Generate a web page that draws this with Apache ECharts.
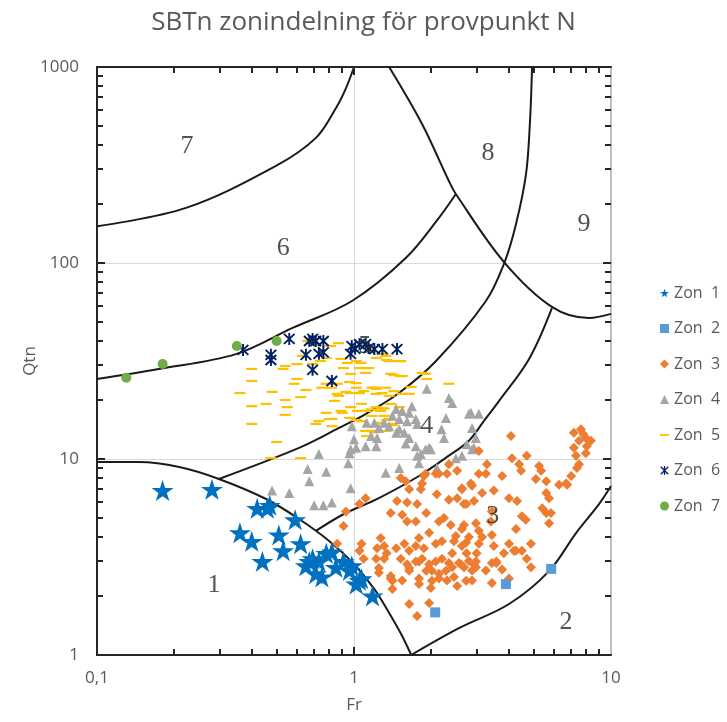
<!DOCTYPE html>
<html>
<head>
<meta charset="utf-8">
<script src="https://cdn.jsdelivr.net/npm/echarts@6/dist/echarts.min.js"></script>
<style>
  html, body { margin: 0; padding: 0; background: #ffffff; }
  #chart { width: 727px; height: 722px; }
</style>
</head>
<body>
<div id="chart"></div>
<script>
// ---- Tick positions on the log axes ----
const xTicksMinor = [0.2, 0.3, 0.4, 0.5, 0.6, 0.7, 0.8, 0.9, 2, 3, 4, 5, 6, 7, 8, 9];
const yTicksMinor = [2, 3, 4, 5, 6, 7, 8, 9, 20, 30, 40, 50, 60, 70, 80, 90, 200, 300, 400, 500, 600, 700, 800, 900];
const xTicksMajor = [1];
const yTicksMajor = [10, 100];

// ---- SBTn zone boundaries, [Fr, Qtn] ----
const curveZone1 = [[0.1, 9.66], [0.146, 9.66], [0.209, 9.1], [0.298, 7.91], [0.455, 6.25], [0.611, 4.94], [0.8, 3.82], [1.0, 2.91], [1.2, 2.17], [1.37, 1.64], [1.52, 1.29], [1.67, 1.0]];
const curve67 = [[0.1, 154], [0.222, 191], [0.497, 313], [0.711, 435], [0.851, 618], [0.931, 781], [1.0, 1000]];
const curve56 = [[0.1, 25.6], [0.174, 28.8], [0.347, 34.3], [0.574, 46.5], [0.982, 64.0], [1.59, 106], [2.14, 170], [2.49, 225]];
const curve8 = [[1.37, 1000], [1.84, 512], [2.34, 262], [2.49, 225], [3.85, 100.5], [5.89, 59.7], [8.21, 52.4], [10, 55]];
const curve45 = [[0.298, 7.91], [0.611, 11.4], [0.874, 14.4], [1.114, 17.0], [1.496, 21.7], [2.085, 31.6], [3.26, 64.0], [3.85, 100.5], [4.27, 158], [4.67, 284], [4.84, 530], [4.93, 1000]];
const curve34 = [[0.711, 4.3], [0.914, 5.24], [1.25, 6.32], [1.79, 8.19], [2.34, 10.4], [2.80, 12.4], [3.2, 15.6], [3.67, 19.8], [4.80, 32.4], [5.89, 58.9]];
const curve23 = [[1.67, 1.0], [2.56, 1.37], [4.01, 1.82], [5.74, 2.68], [7.31, 4.19], [8.98, 5.89], [10, 7.28]];

// ---- Zone numbers written in the diagram ----
const zoneLabelText = ['1', '2', '3', '4', '5', '6', '7', '8', '9'];
const zoneLabelFr = [0.285, 6.68, 3.47, 1.92, 1.10, 0.53, 0.224, 3.32, 7.85];
const zoneLabelQtn = [2.28, 1.47, 5.12, 14.7, 37.5, 119, 395, 364, 158];

// ---- Measured points per zone, [Fr, Qtn] ----
const zone1 = [[0.18, 6.9], [0.28, 7.0], [0.36, 4.2], [0.40, 3.8], [0.44, 3.0], [0.42, 5.6], [0.46, 5.6], [0.47, 5.8], [0.51, 4.1], [0.59, 4.9], [0.53, 3.4], [0.62, 3.7], [0.65, 2.85], [0.71, 2.6], [0.69, 3.1], [0.78, 3.3], [0.82, 3.35], [0.75, 2.5], [0.67, 3.0], [0.73, 3.0], [0.98, 2.85], [1.02, 2.3], [1.07, 2.45], [1.18, 2.0], [1.05, 2.4], [0.96, 2.7], [0.85, 2.8], [0.91, 3.0]];

const zone2 = [[2.07, 1.65], [3.9, 2.3], [5.85, 2.75]];

const zone3 = [[4.08, 13.1], [4.12, 10.1], [4.70, 10.4], [7.17, 13.6], [7.64, 14.2], [7.98, 12.8], [7.51, 12.4], [7.17, 11.4], [7.31, 10.4], [8.35, 12.4], [7.98, 10.7], [7.51, 9.4], [7.37, 9.0], [7.0, 8.2], [6.69, 7.5], [7.8, 13.4], [8.05, 11.6],
  [3.29, 9.4], [3.06, 8.4], [3.26, 8.4], [2.85, 7.5], [2.63, 7.0], [3.77, 8.2], [3.50, 6.9], [3.15, 6.7], [2.93, 6.1], [2.68, 5.9], [4.39, 9.4], [4.47, 8.7], [5.25, 9.2], [5.35, 8.7], [5.10, 7.9], [5.60, 7.7], [5.60, 6.7], [5.74, 6.3], [6.28, 7.4], [6.75, 7.4],
  [4.01, 6.3], [4.31, 6.1], [5.40, 5.6], [5.84, 5.3], [4.50, 5.1], [4.66, 4.9], [5.74, 4.7], [4.27, 4.4], [3.44, 5.4], [3.41, 4.8], [3.44, 4.1], [3.50, 3.6], [4.01, 3.7], [4.88, 3.7], [4.19, 3.4], [4.50, 3.4], [3.83, 3.3], [4.70, 3.1], [3.44, 2.95], [3.58, 2.95], [4.88, 2.8],
  [3.06, 3.7], [3.00, 3.3], [2.93, 2.9], [2.74, 3.3], [2.80, 4.0], [2.68, 4.6], [3.06, 4.3], [3.15, 4.0], [2.88, 2.7], [2.68, 2.8], [2.63, 3.6],
  [3.44, 2.33], [2.88, 2.4], [2.45, 2.5], [2.30, 2.4], [2.14, 2.46], [1.99, 2.2], [1.79, 2.3], [1.54, 2.4], [1.41, 2.17], [1.25, 2.63], [2.98, 3.0], [3.26, 2.7], [3.58, 3.0], [3.77, 2.73], [4.01, 2.46], [4.27, 3.4], [5.60, 5.3], [2.41, 3.3], [2.56, 2.95], [1.79, 3.0], [1.64, 2.78], [1.39, 2.53], [1.31, 3.1], [1.23, 3.5],
  [1.11, 6.3], [1.05, 5.9], [0.93, 5.4], [0.91, 4.55], [0.86, 3.7], [1.07, 3.7], [1.05, 3.4], [1.09, 3.1], [1.22, 3.1], [1.25, 2.78], [1.39, 2.46], [1.64, 1.82], [1.76, 1.58], [1.96, 1.84],
  [1.52, 8.0], [1.64, 7.0], [1.47, 6.1], [1.61, 6.0], [1.76, 5.9], [1.39, 5.3], [1.54, 5.2], [1.61, 4.8], [1.74, 4.8], [1.91, 5.3], [1.82, 7.0], [1.87, 8.2], [2.08, 8.4], [2.30, 8.4], [2.52, 8.7], [2.10, 6.6], [2.34, 6.2], [2.52, 6.3], [2.63, 7.1], [2.88, 7.3], [2.74, 5.9], [2.24, 5.0], [2.14, 4.8], [2.38, 4.6], [2.63, 4.4], [2.98, 4.7], [1.96, 4.2], [1.79, 3.95], [1.27, 3.95], [1.31, 3.6], [1.46, 3.5], [1.57, 3.7], [1.64, 3.4], [1.74, 3.6], [1.87, 3.5], [2.08, 3.7], [2.20, 3.8], [2.45, 3.8], [2.73, 3.75], [2.49, 4.05],
  [1.52, 3.1], [1.61, 2.9], [1.74, 3.0], [1.84, 3.1], [1.96, 2.9], [2.08, 3.0], [2.20, 3.1], [2.34, 2.95], [1.91, 2.69], [2.01, 2.69], [2.14, 2.6], [2.28, 2.69], [2.41, 2.8], [2.61, 2.9], [2.80, 3.02], [2.98, 2.8], [1.79, 2.46], [2.01, 2.39], [2.52, 2.25], [2.73, 2.39], [1.41, 2.39], [1.64, 2.69], [1.34, 3.3],
  [3.06, 11.0], [2.34, 9.4], [2.14, 8.4], [1.90, 8.4], [1.84, 7.5], [1.59, 7.7]];

const zone4 = [[1.92, 22.8], [2.34, 20.5], [2.41, 19.3], [2.85, 17.2], [3.06, 17.0], [1.68, 18.6], [1.64, 17.2], [1.54, 17.6], [1.46, 18.0], [1.41, 16.6], [1.50, 16.0], [1.61, 15.6], [1.74, 16.0], [1.76, 15.1], [1.50, 14.2], [1.57, 13.6], [1.46, 13.6], [1.64, 12.8], [1.59, 12.0], [1.74, 11.6], [1.90, 11.2], [1.76, 10.4], [1.79, 9.5], [1.37, 14.7], [1.31, 15.3], [1.25, 14.4], [1.20, 15.3], [1.12, 15.3], [1.165, 13.1], [1.23, 12.8], [1.11, 11.6], [1.22, 11.6], [1.0, 12.6], [1.02, 11.4], [0.96, 10.7], [0.95, 9.5], [0.73, 10.6], [0.66, 8.9], [0.67, 7.7], [1.33, 8.5], [1.50, 9.0], [0.97, 7.1], [0.70, 5.8], [0.76, 5.8], [0.82, 6.0], [2.19, 14.2], [2.24, 12.8], [1.99, 11.2], [2.49, 10.1], [2.63, 10.4], [2.88, 11.2], [2.80, 17.0], [2.28, 16.2], [2.10, 9.0], [2.75, 11.9], [2.93, 11.4], [2.98, 12.8], [2.88, 14.4], [0.48, 6.9], [0.56, 6.7], [0.78, 8.6], [0.98, 14.7], [1.82, 10.6], [1.96, 11.4], [0.97, 11.2]];

const zone5 = [[0.36, 21.7], [0.40, 28.8], [0.40, 25.0], [0.40, 18.6], [0.40, 15.1], [0.50, 12.2], [0.455, 19.1], [0.48, 22.0], [0.53, 28.8], [0.60, 25.6], [0.585, 24.2], [0.65, 22.5], [0.62, 20.7], [0.54, 20.0], [0.55, 18.4], [0.54, 16.8], [0.73, 15.6], [0.71, 15.1], [0.80, 16.0], [0.82, 14.7], [0.78, 17.2], [0.89, 17.6], [0.84, 19.8], [0.87, 21.0], [0.93, 22.0], [0.78, 24.2], [0.96, 24.7], [0.86, 24.2], [0.97, 21.7], [0.97, 18.4], [0.69, 30.5], [0.60, 30.5], [0.54, 29.8], [0.63, 33.6], [0.66, 40.0], [0.71, 38.6], [0.81, 37.7], [0.87, 39.0], [0.78, 32.8], [0.74, 31.6], [0.94, 30.9], [0.89, 32.4], [0.62, 10.1], [0.475, 10.1], [0.75, 23.1], [0.82, 23.1], [0.86, 21.5], [0.90, 17.2], [0.91, 29.1], [0.82, 16.0], [0.96, 16.2],
  [1.02, 31.6], [1.065, 30.9], [1.11, 29.1], [1.11, 27.5], [1.34, 32.0], [1.52, 31.6], [1.22, 32.8], [1.29, 34.4], [1.39, 27.2], [1.52, 26.5], [1.14, 29.1], [1.43, 26.8], [1.54, 26.5], [1.90, 27.2], [2.34, 24.2], [1.02, 24.4], [1.20, 23.1], [1.33, 23.1], [1.02, 23.1], [1.05, 21.7], [1.09, 22.2], [1.175, 23.1], [1.22, 21.5], [1.285, 21.7], [1.37, 21.0], [1.43, 22.2], [1.54, 21.5], [1.64, 21.5], [1.39, 19.1], [1.50, 18.4], [1.27, 17.6], [1.31, 16.6], [1.34, 15.8], [1.41, 15.1], [1.175, 16.6], [1.11, 13.9], [1.20, 13.7], [1.03, 17.6], [1.07, 19.1], [0.97, 27.2], [1.05, 29.1], [1.37, 31.6], [1.50, 31.6], [1.84, 27.5], [1.92, 25.6], [1.22, 22.8], [1.67, 23.3], [1.165, 17.9], [1.285, 18.1], [1.37, 16.0], [1.41, 14.9], [1.02, 15.8], [1.33, 13.9], [1.175, 13.9], [1.07, 15.6], [1.12, 13.1], [1.25, 15.3], [1.22, 18.4], [1.31, 18.1], [1.11, 17.6], [1.05, 37.7], [1.16, 35.6], [1.33, 33.6]];

const zone6 = [[0.37, 36], [0.475, 34], [0.475, 32], [0.56, 41], [0.69, 41], [0.71, 40], [0.76, 40], [0.65, 34], [0.73, 34.4], [0.76, 35], [0.69, 28.5], [0.82, 25], [0.98, 37.7], [0.97, 34.4], [1.01, 36.5], [1.11, 38.6], [1.14, 36.8], [1.20, 36.4], [1.29, 36.4], [1.47, 36.4], [0.67, 40], [1.05, 38.5]];

const zone7 = [[0.13, 26], [0.18, 30.5], [0.35, 37.7], [0.50, 40]];

const zoneNames = ['Zon  1', 'Zon  2', 'Zon  3', 'Zon  4', 'Zon  5', 'Zon  6', 'Zon  7'];

// ---- Marker shapes ----
const STAR = 'path://M0,-100 L22.45,-30.9 L95.1,-30.9 L36.3,11.8 L58.8,80.9 L0,38.2 L-58.8,80.9 L-36.3,11.8 L-95.1,-30.9 L-22.45,-30.9 Z';
const ASTERISK = 'path://M-0.9,-6 L0.9,-6 L0.9,6 L-0.9,6 Z M-4.36,-5.64 L5.64,4.36 L4.36,5.64 L-5.64,-4.36 Z M5.64,-4.36 L-4.36,5.64 L-5.64,4.36 L4.36,-5.64 Z';
const DASH = 'path://M0,0 L10,0 L10,2 L0,2 Z';

const FONT = 'Open Sans';
const TEXT_GREY = '#595959';
const TICK_COLOR = '#262626';
const GRID = { left: 97, top: 67, width: 514, height: 588 };

function boundary(data) {
  return {
    type: 'line',
    data: data,
    smooth: 0.35,
    symbol: 'none',
    silent: true,
    z: 3,
    lineStyle: { color: '#1a1a1a', width: 2 }
  };
}

function zoneSeries(name, data, symbol, size, color) {
  return {
    name: name,
    type: 'scatter',
    data: data,
    symbol: symbol,
    symbolSize: size,
    z: 4,
    itemStyle: { color: color, opacity: 1 }
  };
}

const chart = echarts.init(document.getElementById('chart'), null, { renderer: 'canvas' });

const fmt = v => String(Number(v.toPrecision(3))).replace('.', ',');

chart.setOption({
  animation: false,
  backgroundColor: '#ffffff',
  title: {
    text: 'SBTn zonindelning för provpunkt N',
    left: 'center',
    top: 5,
    textStyle: { fontFamily: FONT, fontSize: 26, fontWeight: 'normal', color: TEXT_GREY }
  },
  grid: GRID,
  legend: {
    orient: 'vertical',
    left: 655,
    top: 280,
    itemWidth: 9,
    itemHeight: 9,
    itemGap: 19.5,
    textStyle: { fontFamily: FONT, fontSize: 16, lineHeight: 16, color: TEXT_GREY },
    data: [
      { name: zoneNames[0], icon: STAR },
      { name: zoneNames[1], icon: 'rect' },
      { name: zoneNames[2], icon: 'diamond' },
      { name: zoneNames[3], icon: 'triangle' },
      { name: zoneNames[4], icon: DASH },
      { name: zoneNames[5], icon: ASTERISK },
      { name: zoneNames[6], icon: 'circle' }
    ]
  },
  xAxis: [
    {
      type: 'log', logBase: 10, min: 0.1, max: 10,
      position: 'bottom',
      name: 'Fr', nameLocation: 'middle', nameGap: 42, nameMoveOverlap: false,
      nameTextStyle: { fontFamily: FONT, fontSize: 17, color: TEXT_GREY },
      axisLine: { show: true, lineStyle: { color: TICK_COLOR, width: 2 } },
      axisTick: { show: false },
      splitLine: { show: true, lineStyle: { color: '#d9d9d9', width: 1 } },
      axisLabel: { fontFamily: FONT, fontSize: 17, color: TEXT_GREY, margin: 15, formatter: fmt }
    },
    {
      type: 'log', logBase: 10, min: 0.1, max: 10,
      position: 'top',
      axisLine: { show: true, lineStyle: { color: TICK_COLOR, width: 2 } },
      axisTick: { show: false },
      axisLabel: { show: false },
      splitLine: { show: false }
    }
  ],
  yAxis: [
    {
      type: 'log', logBase: 10, min: 1, max: 1000,
      position: 'left',
      name: 'Qtn', nameLocation: 'middle', nameGap: 58, nameRotate: 90, nameMoveOverlap: false,
      nameTextStyle: { fontFamily: FONT, fontSize: 17, color: TEXT_GREY },
      axisLine: { show: true, lineStyle: { color: TICK_COLOR, width: 2 } },
      axisTick: { show: false },
      splitLine: { show: true, lineStyle: { color: '#d9d9d9', width: 1 } },
      axisLabel: { fontFamily: FONT, fontSize: 17, color: TEXT_GREY, margin: 18, formatter: fmt }
    },
    {
      type: 'log', logBase: 10, min: 1, max: 1000,
      position: 'right',
      axisLine: { show: true, lineStyle: { color: '#bfbfbf', width: 2 } },
      axisTick: { show: false },
      axisLabel: { show: false },
      splitLine: { show: false }
    }
  ],
  series: [
    boundary(curveZone1),
    boundary(curve67),
    boundary(curve56),
    boundary(curve8),
    boundary(curve45),
    boundary(curve34),
    boundary(curve23),
    zoneSeries(zoneNames[4], zone5, DASH, [11, 2.2], '#ffc000'),
    zoneSeries(zoneNames[3], zone4, 'triangle', 10, '#a5a5a5'),
    zoneSeries(zoneNames[2], zone3, 'diamond', 10, '#ed7d31'),
    zoneSeries(zoneNames[1], zone2, 'rect', 10, '#5b9bd5'),
    zoneSeries(zoneNames[0], zone1, STAR, [22, 21], '#0070c0'),
    zoneSeries(zoneNames[5], zone6, ASTERISK, 12, '#002060'),
    zoneSeries(zoneNames[6], zone7, 'circle', 10, '#70ad47'),
    {
      type: 'scatter',
      silent: true,
      z: 7,
      symbol: 'circle',
      symbolSize: 1,
      itemStyle: { color: 'rgba(0,0,0,0)' },
      data: zoneLabelText.map((t, i) => ({ name: t, value: [zoneLabelFr[i], zoneLabelQtn[i]] })),
      label: {
        show: true,
        position: 'inside',
        formatter: p => p.name,
        fontFamily: 'Liberation Serif',
        fontSize: 26,
        color: '#262626'
      }
    }
  ]
});

// Inward tick marks on all four sides of the frame; each tick's position
// along its axis is taken from the chart's own log scale.
function frameTicks(xs, ys, len) {
  const els = [];
  const bottom = GRID.top + GRID.height;
  const top = GRID.top;
  const left = GRID.left;
  const right = GRID.left + GRID.width;
  const st = { stroke: TICK_COLOR, lineWidth: 2 };
  xs.forEach(v => {
    const x = Math.round(chart.convertToPixel({ xAxisIndex: 0 }, v));
    els.push({ type: 'line', silent: true, z: 10, shape: { x1: x, y1: bottom, x2: x, y2: bottom - len }, style: st });
    els.push({ type: 'line', silent: true, z: 10, shape: { x1: x, y1: top, x2: x, y2: top + len }, style: st });
  });
  ys.forEach(v => {
    const y = Math.round(chart.convertToPixel({ yAxisIndex: 0 }, v));
    els.push({ type: 'line', silent: true, z: 10, shape: { x1: left, y1: y, x2: left + len, y2: y }, style: st });
    els.push({ type: 'line', silent: true, z: 10, shape: { x1: right, y1: y, x2: right - len, y2: y }, style: st });
  });
  return els;
}

chart.setOption({
  graphic: [].concat(frameTicks(xTicksMinor, yTicksMinor, 6), frameTicks(xTicksMajor, yTicksMajor, 8))
});
</script>
</body>
</html>
